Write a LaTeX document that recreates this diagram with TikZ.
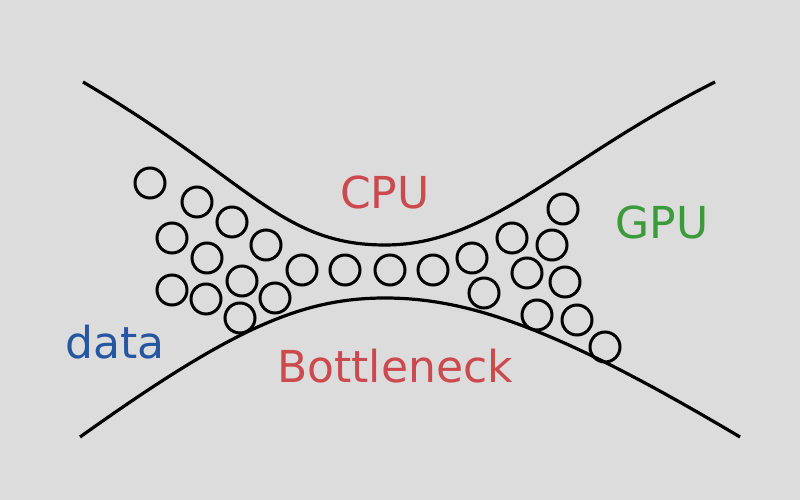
\documentclass[tikz,border=0pt]{standalone}
\usepackage{fontspec}
\setmainfont{DejaVu Sans}
\definecolor{bg}{HTML}{DCDCDC}
\definecolor{cred}{HTML}{CC4A4E}
\definecolor{cgreen}{HTML}{3C9A3A}
\definecolor{cblue}{HTML}{2456A2}
\begin{document}
\begin{tikzpicture}[x=1pt,y=-1pt,
  ball/.style={draw=black,line width=3pt,circle,minimum size=30pt,inner sep=0pt},
  pipe/.style={line width=3.2pt},
  lab/.style={font=\fontsize{44}{48}\selectfont,inner sep=0pt}]
\fill[bg] (0,0) rectangle (800,500);
\useasboundingbox (0,0) rectangle (800,500);
\draw[pipe] (83,82) .. controls (250,180) and (280,245) .. (385,245) .. controls (490,245) and (560,160) .. (715,82);
\draw[pipe] (80,437) .. controls (230,330) and (300,298) .. (385,298) .. controls (470,298) and (560,330) .. (740,437);
\foreach \i/\x/\y in {1/150/183,2/197/202,3/232/222,4/172/238,5/207/258,6/266/245,7/242/281,8/172/290,9/206/299,10/275/298,11/240/318,12/302/270,13/345/270,14/390/270,15/433/270,16/472/258,17/512/238,18/563/209,19/552/245,20/527/273,21/565/282,22/484/293,23/537/315,24/577/320,25/605/347}
  \node[ball] (b\i) at (\x,\y) {};
\node[lab,text=cred] (cpu) at (385,192) {CPU};
\node[lab,text=cgreen] (gpu) at (662,222) {GPU};
\node[lab,text=cblue] (data) at (115,342) {data};
\node[lab,text=cred] (bn) at (395,366) {Bottleneck};
\end{tikzpicture}
\end{document}
